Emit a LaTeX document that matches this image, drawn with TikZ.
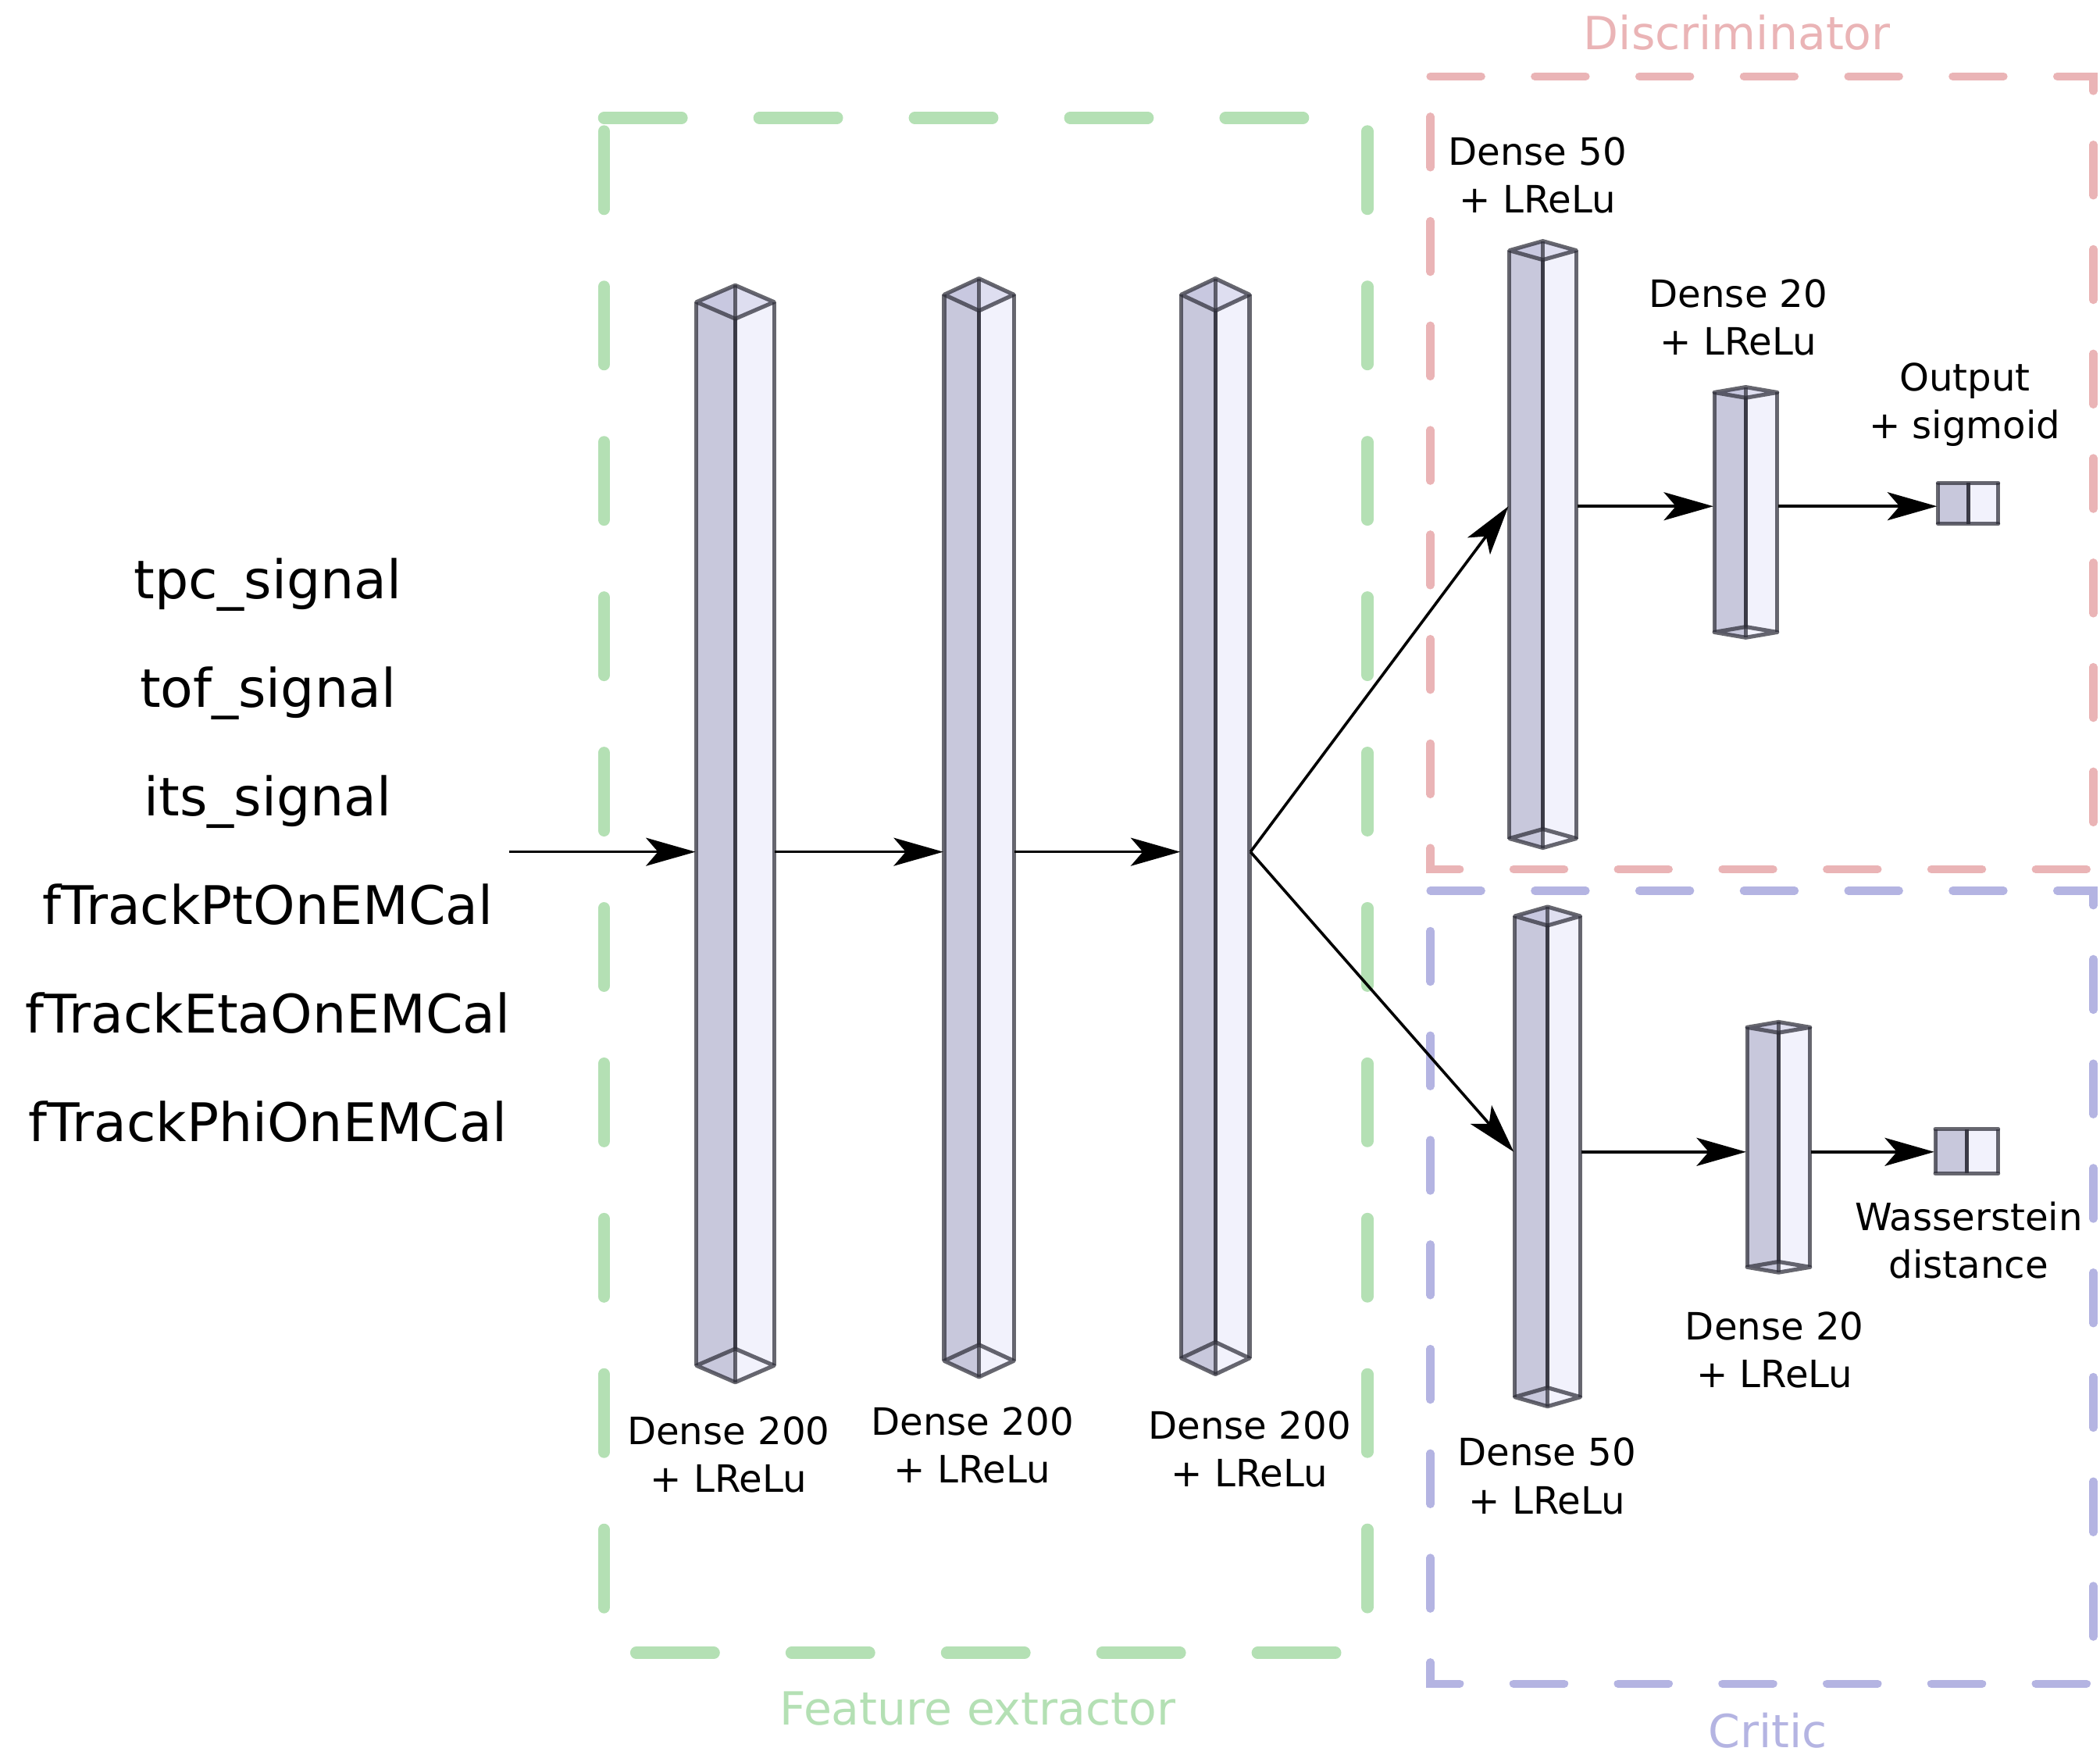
\documentclass[tikz,border=0pt]{standalone}
\usepackage{fontspec}
\setmainfont{DejaVu Sans}
\usepackage{xcolor}
\usepackage{tikz}
\usetikzlibrary{arrows.meta,positioning,fit}
\definecolor{featgreen}{RGB}{180,224,180}
\definecolor{discpink}{RGB}{234,180,182}
\definecolor{critblue}{RGB}{180,180,226}
\definecolor{sidedark}{RGB}{200,200,220}
\definecolor{sidelight}{RGB}{242,242,252}
\definecolor{topdark}{RGB}{200,200,224}
\definecolor{toplight}{RGB}{222,222,240}
\definecolor{edgegray}{RGB}{45,45,56}

% transparent prism: name, centre x, half width, depth, top y, bottom y
\newcommand{\layerbox}[6]{%
  \fill[sidedark] (#2-#3,#5+#4) -- (#2,#5+2*#4) -- (#2,#6) -- (#2-#3,#6-#4) -- cycle;
  \fill[sidelight] (#2,#5+2*#4) -- (#2+#3,#5+#4) -- (#2+#3,#6-#4) -- (#2,#6) -- cycle;
  \fill[topdark] (#2-#3,#5+#4) -- (#2,#5) -- (#2,#5+2*#4) -- cycle;
  \fill[toplight] (#2,#5) -- (#2+#3,#5+#4) -- (#2,#5+2*#4) -- cycle;
  \draw[edge] (#2-#3,#5+#4) -- (#2,#5) -- (#2+#3,#5+#4) -- (#2,#5+2*#4) -- cycle;
  \draw[edge] (#2-#3,#6-#4) -- (#2,#6-2*#4) -- (#2+#3,#6-#4) -- (#2,#6) -- cycle;
  \draw[edge] (#2-#3,#5+#4) -- (#2-#3,#6-#4) (#2+#3,#5+#4) -- (#2+#3,#6-#4);
  \draw[edge] (#2,#5) -- (#2,#6-2*#4);
  \draw[edge] (#2,#5+2*#4) -- (#2,#6);
  \node[fit={(#2-#3,#5) (#2+#3,#6)},inner sep=0pt] (#1) {};
}

\begin{document}
\begin{tikzpicture}[
  x=0.1mm,y=-0.1mm,
  font=\fontsize{8}{10.2}\selectfont,
  edge/.style={draw=edgegray,draw opacity=0.72,line width=0.85pt,line join=round},
  featframe/.style={draw=featgreen,line width=0.9mm,line cap=round,dash pattern=on 5.8mm off 5.8mm},
  discframe/.style={draw=discpink,line width=0.6mm,line cap=round,dash pattern=on 3.8mm off 4mm},
  critframe/.style={draw=critblue,line width=0.6mm,line cap=round,dash pattern=on 3.8mm off 4mm},
  inlabel/.style={font=\fontsize{11.3}{13.5}\selectfont,anchor=base},
  laylabel/.style={align=center,inner sep=0pt},
  grouptitle/.style={font=\fontsize{9.7}{11.5}\selectfont,anchor=base},
  arrow/.style={-{Stealth[length=3.7mm,width=2.1mm,inset=0.9mm]},draw=black,line width=0.6pt}
]
\useasboundingbox (0,0) rectangle (1568,1310);

% group frames
\draw[featframe] (451,88) -- (1021,88) -- (1021,1234) -- (451,1234) -- cycle;
\draw[discframe] (1068,57) -- (1563,57) -- (1563,649) -- (1068,649) -- cycle;
\draw[critframe] (1068,665) -- (1563,665) -- (1563,1257) -- (1068,1257) -- cycle;
\node[grouptitle,text=featgreen] (feattitle) at (730,1288) {Feature extractor};
\node[grouptitle,text=discpink] (disctitle) at (1297,37) {Discriminator};
\node[grouptitle,text=critblue] (crittitle) at (1320,1305) {Critic};

% inputs
\node[inlabel] (tpc) at (200,447) {tpc\_signal};
\node[inlabel] (tof) at (200,528) {tof\_signal};
\node[inlabel] (its) at (200,609) {its\_signal};
\node[inlabel] (pt) at (200,690) {fTrackPtOnEMCal};
\node[inlabel] (eta) at (200,771) {fTrackEtaOnEMCal};
\node[inlabel] (phi) at (200,852) {fTrackPhiOnEMCal};

% layers
\layerbox{l1}{549}{29}{12.5}{213}{1032}
\layerbox{l2}{731}{26}{12}{208}{1028}
\layerbox{l3}{907.5}{25.5}{12}{208}{1026}
\layerbox{d1}{1152}{25}{7}{180}{633}
\layerbox{d2}{1303.5}{23.5}{4}{289}{476}
\layerbox{d3}{1469.5}{22.5}{0}{360.5}{391}
\layerbox{c1}{1155.5}{24.5}{7}{677}{1050}
\layerbox{c2}{1328}{23.5}{4}{763}{950}
\layerbox{c3}{1468.5}{23.5}{0}{843}{876}

\node[laylabel] (l1lab) at (544,1086) {Dense 200\\+ LReLu};
\node[laylabel] (l2lab) at (726,1079) {Dense 200\\+ LReLu};
\node[laylabel] (l3lab) at (933,1082) {Dense 200\\+ LReLu};
\node[laylabel] (d1lab) at (1148,131) {Dense 50\\+ LReLu};
\node[laylabel] (d2lab) at (1298,237) {Dense 20\\+ LReLu};
\node[laylabel] (d3lab) at (1467,302) {Output\\+ sigmoid};
\node[laylabel] (c1lab) at (1155,1102) {Dense 50\\+ LReLu};
\node[laylabel] (c2lab) at (1325,1008) {Dense 20\\+ LReLu};
\node[laylabel] (c3lab) at (1470,926) {Wasserstein\\distance};

% connections
\coordinate (mainrow) at (380,636);
\coordinate (discrow) at (0,378);
\coordinate (critrow) at (0,860);
\draw[arrow] (mainrow) -- (l1.west |- mainrow);
\draw[arrow] (l1.east |- mainrow) -- (l2.west |- mainrow);
\draw[arrow] (l2.east |- mainrow) -- (l3.west |- mainrow);
\draw[arrow] (l3.east |- mainrow) -- (d1.west |- discrow);
\draw[arrow] (l3.east |- mainrow) -- (c1.west |- critrow);
\draw[arrow] (d1.east |- discrow) -- (d2.west |- discrow);
\draw[arrow] (d2.east |- discrow) -- (d3.west |- discrow);
\draw[arrow] (c1.east |- critrow) -- (c2.west |- critrow);
\draw[arrow] (c2.east |- critrow) -- (c3.west |- critrow);
\end{tikzpicture}
\end{document}
